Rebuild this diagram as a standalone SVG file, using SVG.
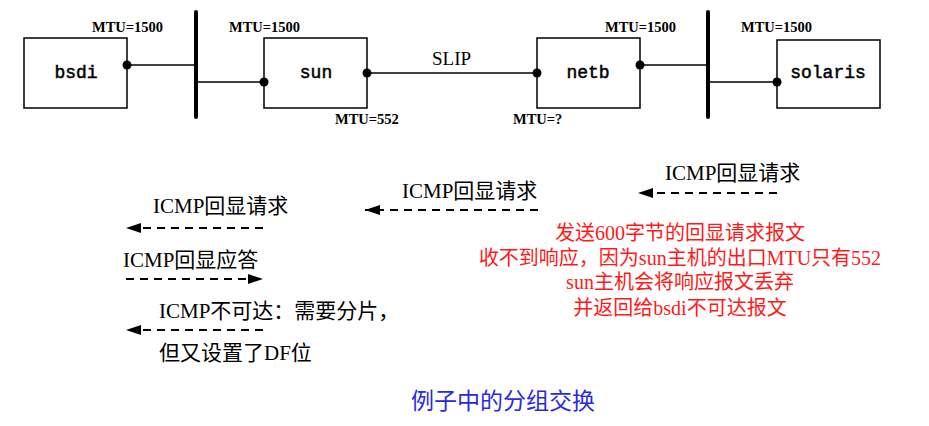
<svg xmlns="http://www.w3.org/2000/svg" width="929" height="426" viewBox="0 0 929 426">
<style>
.box{fill:#fff;stroke:#000;stroke-width:1.5}
.node{font-family:"Liberation Mono",monospace;font-size:18px;fill:#000;stroke:#000;stroke-width:0.5;text-anchor:middle}
.mtu{font-family:"Liberation Serif",serif;font-size:14.5px;font-weight:bold;fill:#000}
.wire{stroke:#000;stroke-width:1.5;fill:none}
.bar{stroke:#000;stroke-width:4;stroke-linecap:round}
.dot{fill:#000}
.msg{font-family:"Liberation Serif","Noto Sans CJK SC",serif;font-size:21px;fill:#000}
.lat{font-family:"Liberation Serif",serif}
.dash{stroke:#000;stroke-width:2;stroke-dasharray:8 6;fill:none}
.red{font-family:"Liberation Serif","Noto Sans CJK SC",serif;font-size:20px;fill:#ff1a1a;text-anchor:middle}
.cap{font-family:"Noto Sans CJK SC",sans-serif;font-size:23px;fill:#2a2ae0;text-anchor:middle}
</style>
<defs>
<marker id="ah" markerUnits="userSpaceOnUse" markerWidth="18" markerHeight="12" refX="15" refY="5" orient="auto">
<path d="M0,0 L15,5 L0,10 z" fill="#000"/>
</marker>
</defs>
<rect width="929" height="426" fill="#fff"/>
<g id="connectors">
<line class="bar" x1="196" y1="12" x2="196" y2="117"/>
<line class="bar" x1="708" y1="12" x2="708" y2="117"/>
<line class="wire" x1="127" y1="65" x2="196" y2="65"/>
<line class="wire" x1="196" y1="82" x2="264" y2="82"/>
<line class="wire" x1="367" y1="73" x2="537" y2="73"/>
<line class="wire" x1="640" y1="65" x2="708" y2="65"/>
<line class="wire" x1="708" y1="82" x2="777" y2="82"/>
<text x="432" y="65" font-family="Liberation Serif,serif" font-size="19" fill="#000">SLIP</text>
</g>
<g id="bsdi">
<rect class="box" x="24" y="38" width="103" height="70"/>
<text class="node" x="76" y="78">bsdi</text>
<circle class="dot" cx="127" cy="65" r="4.5"/>
<text class="mtu" x="92" y="32">MTU=1500</text>
</g>
<g id="sun">
<rect class="box" x="264" y="38" width="103" height="70"/>
<text class="node" x="316" y="78">sun</text>
<circle class="dot" cx="264" cy="82" r="4.5"/>
<circle class="dot" cx="367" cy="73" r="4.5"/>
<text class="mtu" x="229" y="32">MTU=1500</text>
<text class="mtu" x="335" y="124">MTU=552</text>
</g>
<g id="netb">
<rect class="box" x="537" y="38" width="103" height="70"/>
<text class="node" x="588" y="78">netb</text>
<circle class="dot" cx="537" cy="73" r="4.5"/>
<circle class="dot" cx="640" cy="65" r="4.5"/>
<text class="mtu" x="605" y="32">MTU=1500</text>
<text class="mtu" x="513" y="124">MTU=?</text>
</g>
<g id="solaris">
<rect class="box" x="777" y="40" width="103" height="68"/>
<text class="node" x="828" y="78">solaris</text>
<circle class="dot" cx="777" cy="82" r="4.5"/>
<text class="mtu" x="741" y="32">MTU=1500</text>
</g>
<g id="messages">
<text class="msg" x="665" y="180">ICMP回显请求</text>
<line class="dash" x1="777" y1="193" x2="638" y2="193" marker-end="url(#ah)"/>
<text class="msg" x="402" y="198">ICMP回显请求</text>
<line class="dash" x1="538" y1="210" x2="365" y2="210" marker-end="url(#ah)"/>
<text class="msg" x="153" y="213">ICMP回显请求</text>
<line class="dash" x1="263" y1="228" x2="126" y2="228" marker-end="url(#ah)"/>
<text class="msg" x="123" y="267">ICMP回显应答</text>
<line class="dash" x1="126" y1="279" x2="263" y2="279" marker-end="url(#ah)"/>
<text class="msg" x="159" y="318">ICMP不可达：需要分片，</text>
<line class="dash" x1="263" y1="330" x2="126" y2="330" marker-end="url(#ah)"/>
<text class="msg" x="159" y="360">但又设置了<tspan class="lat">DF</tspan>位</text>
</g>
<g id="note">
<text class="red" x="680" y="240">发送600字节的回显请求报文</text>
<text class="red" x="680" y="265">收不到响应，因为sun主机的出口MTU只有552</text>
<text class="red" x="680" y="289">sun主机会将响应报文丢弃</text>
<text class="red" x="680" y="315">并返回给bsdi不可达报文</text>
</g>
<text class="cap" x="503" y="409">例子中的分组交换</text>
</svg>
